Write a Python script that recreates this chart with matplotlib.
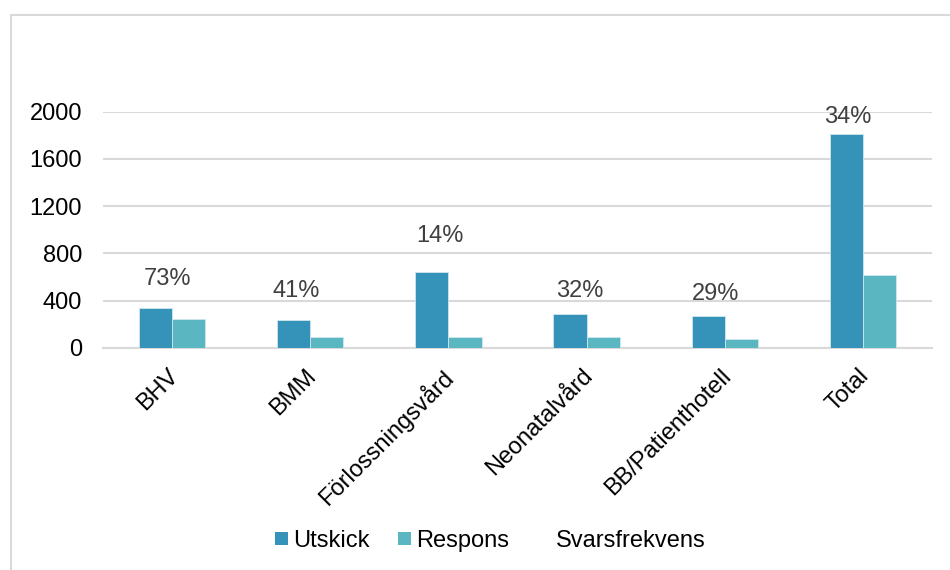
import matplotlib
matplotlib.use("Agg")
import matplotlib.pyplot as plt
import matplotlib.transforms as mtransforms
import numpy as np
from matplotlib.patches import Patch, Rectangle
from matplotlib.lines import Line2D

plt.rcParams['font.family'] = ['Liberation Sans', 'DejaVu Sans']

categories = ["BHV", "BMM", "Förlossningsvård", "Neonatalvård", "BB/Patienthotell", "Total"]
utskick = [342, 235, 644, 292, 271, 1811]
respons = [249, 96, 90, 93, 79, 616]
svarsfrekvens = [73, 41, 14, 32, 29, 34]

# hand-placed label anchors (x offset from category centre, baseline in y units)
label_dx = [-0.03, -0.10, -0.06, -0.05, -0.07, -0.11]
label_y = [531, 432, 898, 432, 404, 1902]

c_utskick = "#3593b9"
c_respons = "#5ab6c0"
fs = 17

fig = plt.figure(figsize=(9.5, 5.7), dpi=100)
ax = fig.add_axes([103 / 950, 1 - 348 / 570, (932 - 103) / 950, (348 - 111.7) / 570])

x = np.arange(len(categories))
w = 0.24
ax.bar(x - w / 2, utskick, w, color=c_utskick, edgecolor="#cfe6ee", linewidth=0.6, zorder=3)
ax.bar(x + w / 2, respons, w, color=c_respons, edgecolor="#cfe6ee", linewidth=0.6, zorder=3)

for i, p in enumerate(svarsfrekvens):
    ax.text(x[i] + label_dx[i], label_y[i], f"{p}%", ha="center", va="baseline",
            fontsize=fs, color="#404040", zorder=4)

ax.set_xlim(-0.5, len(categories) - 0.5)
ax.set_ylim(0, 2000)
ax.set_yticks([0, 400, 800, 1200, 1600, 2000])
ax.yaxis.grid(True, color="#d9d9d9", linewidth=1.5, zorder=0)
ax.set_axisbelow(True)
for s in ["top", "right", "left"]:
    ax.spines[s].set_visible(False)
ax.spines["bottom"].set_color("#d9d9d9")
ax.spines["bottom"].set_linewidth(1.5)

ax.tick_params(axis="y", length=0, pad=15, labelsize=fs, labelcolor="black")
ax.tick_params(axis="x", length=0, pad=12, labelsize=fs, labelcolor="black")
ax.set_xticks(x)
ax.set_xticklabels(categories, rotation=45, ha="right", va="top")

# nudge rotated category names so their ends sit under the category centre
shift = mtransforms.ScaledTranslation(7.5 / 72, 0, fig.dpi_scale_trans)
for lbl in ax.get_xticklabels():
    lbl.set_transform(lbl.get_transform() + shift)

handles = [
    Patch(facecolor=c_utskick, edgecolor="none"),
    Patch(facecolor=c_respons, edgecolor="none"),
    Line2D([], [], color="none"),
]
fig.legend(handles, ["Utskick", "Respons", "Svarsfrekvens"], loc="center",
           bbox_to_anchor=(490 / 950, 1 - 541 / 570), ncol=3, frameon=False,
           fontsize=fs, handlelength=0.55, handleheight=0.5, handletextpad=0.22,
           columnspacing=1.2)

# light frame around the chart area
fig.patches.append(Rectangle((11 / 950, -0.1), 1.2, 1 - 15 / 570 + 0.1,
                             transform=fig.transFigure, fill=False,
                             edgecolor="#d9d9d9", linewidth=1.5))

fig.savefig("out.png", dpi=100)
